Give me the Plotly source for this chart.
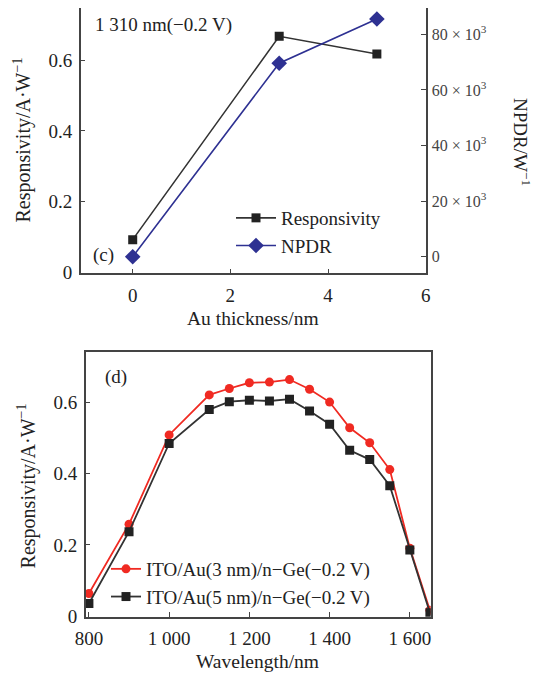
import plotly.graph_objects as go

# ---------------- data ----------------
# panel (c)
au_thickness = [0, 3, 5]
responsivity_c = [0.093, 0.667, 0.617]
npdr_c = [0, 69600, 85500]

npdr_tickvals = [0, 20000, 40000, 60000, 80000]
npdr_ticktext = ["0", "20 × 10<sup>3</sup>", "40 × 10<sup>3</sup>",
                 "60 × 10<sup>3</sup>", "80 × 10<sup>3</sup>"]

# panel (d)
wavelength = [800, 900, 1000, 1100, 1150, 1200, 1250, 1300, 1350, 1400,
              1450, 1500, 1550, 1600, 1650]
resp_3nm = [0.064, 0.258, 0.508, 0.620, 0.638, 0.654, 0.656, 0.663, 0.636,
            0.600, 0.528, 0.486, 0.411, 0.191, 0.017]
resp_5nm = [0.036, 0.237, 0.484, 0.579, 0.601, 0.605, 0.603, 0.608, 0.575,
            0.538, 0.465, 0.439, 0.366, 0.186, 0.010]
wl_tickvals = [800, 1000, 1200, 1400, 1600]
wl_ticktext = ["800", "1 000", "1 200", "1 400", "1 600"]

# ---------------- layout helpers ----------------
# page body has an 8px margin, so the figure is sized to fill the window
OFF = 8
W, H = 539 - OFF, 674 - OFF
FONT = "Liberation Serif"


def px(x):
    return (x - OFF) / W


def py(y):
    return 1 - (y - OFF) / H


BLACK = "#222222"
BLUE = "#2E3192"
RED = "#F02A22"
AXC = "#444444"

fig = go.Figure()

fig.add_trace(go.Scatter(
    x=au_thickness, y=responsivity_c, name="Responsivity",
    mode="lines+markers", xaxis="x", yaxis="y",
    line=dict(color="#333333", width=1.6),
    marker=dict(symbol="square", size=9, color=BLACK),
    legend="legend"))
fig.add_trace(go.Scatter(
    x=au_thickness, y=npdr_c, name="NPDR",
    mode="lines+markers", xaxis="x", yaxis="y2",
    line=dict(color=BLUE, width=1.6),
    marker=dict(symbol="diamond", size=12, color=BLUE),
    legend="legend"))

fig.add_trace(go.Scatter(
    x=wavelength, y=resp_3nm, name="ITO/Au(3 nm)/n−Ge(−0.2 V)",
    mode="lines+markers", xaxis="x2", yaxis="y3",
    line=dict(color=RED, width=1.8),
    marker=dict(symbol="circle", size=9, color=RED),
    legend="legend2"))
fig.add_trace(go.Scatter(
    x=wavelength, y=resp_5nm, name="ITO/Au(5 nm)/n−Ge(−0.2 V)",
    mode="lines+markers", xaxis="x2", yaxis="y3",
    line=dict(color="#333333", width=1.8),
    marker=dict(symbol="square", size=9, color=BLACK),
    legend="legend2"))

axis_common = dict(
    showline=True, linecolor=AXC, linewidth=1.5,
    ticks="inside", ticklen=5, tickwidth=1.2, tickcolor=AXC,
    showgrid=False, zeroline=False, automargin=False,
    tickfont=dict(family=FONT, size=19, color="#222222"),
)

top_x = [80.7, 425.7]
top_y = [8.3, 273.3]
bot_x = [85.7, 430.7]
bot_y = [351.7, 616.7]

fig.update_layout(
    width=W, height=H, autosize=False,
    margin=dict(l=0, r=0, t=0, b=0, autoexpand=False),
    paper_bgcolor="white", plot_bgcolor="white",
    font=dict(family=FONT, size=19, color="#222222"),
    xaxis=dict(axis_common, domain=[px(top_x[0]), px(top_x[1])],
               range=[-1.065, 6], tickvals=[0, 2, 4, 6], mirror=True,
               anchor="y", ticklabelstandoff=4),
    yaxis=dict(axis_common, domain=[py(top_y[1]), py(top_y[0])],
               range=[-0.002, 0.746], tickvals=[0, 0.2, 0.4, 0.6],
               ticktext=["0", "0.2", "0.4", "0.6"], anchor="x",
               ticklabelstandoff=3),
    yaxis2=dict(axis_common, overlaying="y", side="right", anchor="x",
                range=[-5970, 89350], tickvals=npdr_tickvals,
                ticktext=npdr_ticktext, ticklabelstandoff=1,
                tickfont=dict(family=FONT, size=16, color="#444444")),
    xaxis2=dict(axis_common, domain=[px(bot_x[0]), px(bot_x[1])],
                range=[792, 1652], tickvals=wl_tickvals,
                ticktext=wl_ticktext, mirror=True, anchor="y3",
                ticklabelstandoff=4),
    yaxis3=dict(axis_common, domain=[py(bot_y[1]), py(bot_y[0])],
                range=[-0.001, 0.741], tickvals=[0, 0.2, 0.4, 0.6],
                ticktext=["0", "0.2", "0.4", "0.6"], mirror=True,
                anchor="x2", ticklabelstandoff=3),
    legend=dict(x=px(231), y=py(199), xanchor="left", yanchor="top",
                bgcolor="rgba(0,0,0,0)", font=dict(family=FONT, size=19),
                tracegroupgap=0, itemwidth=40),
    legend2=dict(x=px(106), y=py(550), xanchor="left", yanchor="top",
                 bgcolor="rgba(0,0,0,0)", font=dict(family=FONT, size=19),
                 tracegroupgap=0, itemwidth=30),
    showlegend=True,
)

annos = [
    dict(text="Responsivity/A·W<sup>−1</sup>", x=px(22), y=py(140.5),
         textangle=-90, size=20),
    dict(text="NPDR/W<sup>−1</sup>", x=px(522), y=py(142), textangle=90,
         size=19),
    dict(text="Au thickness/nm", x=px(253), y=py(318), textangle=0, size=19.5),
    dict(text="Responsivity/A·W<sup>−1</sup>", x=px(26.4), y=py(486),
         textangle=-90, size=20),
    dict(text="Wavelength/nm", x=px(258), y=py(661), textangle=0, size=19.5),
    dict(text="(c)", x=px(103), y=py(255), textangle=0, size=19),
    dict(text="(d)", x=px(116), y=py(377), textangle=0, size=19),
]
for a in annos:
    fig.add_annotation(text=a["text"], x=a["x"], y=a["y"], xref="paper",
                       yref="paper", showarrow=False, textangle=a["textangle"],
                       xanchor="center", yanchor="middle",
                       font=dict(family=FONT, size=a["size"], color="#222222"))

fig.add_annotation(text="1 310 nm(−0.2 V)", x=px(93), y=py(25), xref="paper",
                   yref="paper", showarrow=False, xanchor="left",
                   yanchor="middle",
                   font=dict(family=FONT, size=19, color="#222222"))

fig.write_html("out.html")
